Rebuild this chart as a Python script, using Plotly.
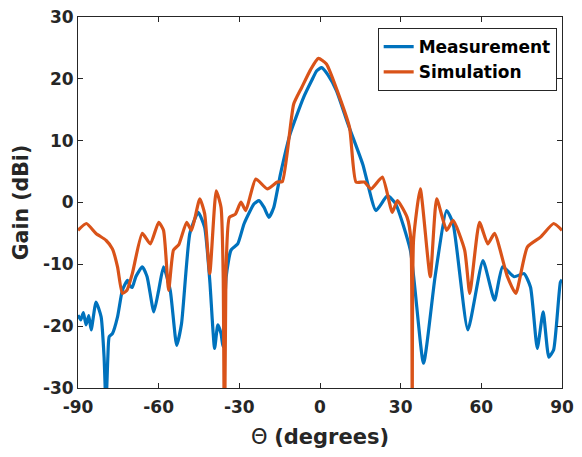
import plotly.graph_objects as go

meas_theta = [-90, -89, -88, -87, -86, -85.1, -83.3, -81.4, -80.3, -79.6, -78.9, -78.4, -77.2, -75.3, -73.5,
              -71.6, -70.5, -69.8, -68.5, -66.1, -64.3, -61.8, -60, -58.2, -55.7, -53.3, -51.5, -48.4, -45.3,
              -42.9, -41.0, -39.2, -38.0, -36.8, -36.1, -34.9, -33.1, -30.6, -28.2, -24.5, -22.7, -20.8, -19.0,
              -17.2, -14.7, -11.1, -6.1, -3.0, -1.2, 0.6, 3.0, 6.1, 10.4, 15.9, 20.8, 25.1, 28.1, 33.6, 38.5,
              42.8, 47.1, 49.5, 55.0, 60.6, 64.9, 67.9, 72.2, 75.9, 78.3, 80.8, 83.0, 85.1, 86.9, 89.4, 90]
meas_gain = [-18.2, -19.0, -17.8, -19.8, -18.3, -20.6, -16.1, -18.5, -25.0, -33.0, -25.0, -21.7, -21.2, -18.5, -14.2,
             -12.6, -13.6, -13.7, -12.0, -10.4, -12.0, -17.7, -14.2, -10.4, -14.2, -23.1, -19.6, -5.0, -1.6,
             -4.0, -12.6, -23.6, -19.8, -21.2, -23.3, -12.0, -7.7, -6.7, -3.4, -0.2, 0.3, -0.8, -2.4,
             -0.8, 4.6, 11.1, 17.0, 19.8, 21.3, 21.8, 20.6, 18.1, 12.7, 6.2, -1.3, 1.1, -0.2, -7.7, -26.0,
             -12.0, -1.3, -3.4, -20.6, -9.4, -15.8, -10.4, -12.0, -11.5, -13.7, -23.6, -17.7, -25.0, -23.8, -12.9, -12.5]

sim_theta = [-90, -86.9, -83.3, -79.6, -77.2, -75.3, -73.5, -71.8, -69.8, -66.1, -63.1, -60, -58.2, -56.3,
             -54.5, -52.5, -49.6, -47.8, -44.7, -42.9, -41.0, -38.6, -36.8, -36.0, -35.5, -35.0, -33.7, -31.5,
             -29.4, -27.6, -23.9, -19.6, -15.9, -14.0, -9.8, -6.8, -3.5, -0.6, 2.4, 7.3, 11.0, 13.4, 16.5,
             19.0, 23.2, 26.9, 28.8, 32.4, 33.8, 34.3, 34.8, 37.3, 41.0, 43.4, 47.1, 49.5, 53.8, 55.7, 59.3,
             62.4, 64.9, 69.7, 72.8, 77.1, 82.0, 86.9, 90]
sim_gain = [-4.5, -3.4, -5.0, -6.1, -7.5, -10.4, -14.7, -14.2, -11.5, -5.0, -6.7, -3.2, -4.5, -14.2,
            -7.7, -6.8, -3.2, -4.5, 0.6, -1.8, -11.5, 1.9, -0.8, -12.0, -45.0, -12.0, -2.4, -1.9,
            0.05, -1.3, 3.8, 2.2, 3.3, 3.4, 15.9, 18.6, 21.5, 23.3, 22.4, 17.0, 12.1, 3.3, 3.3,
            2.2, 4.1, -1.6, 0.3, -2.4, -6.0, -45.0, -6.0, 2.2, -12.0, 0.6, -4.5, -2.9, -7.7, -14.7, -3.2,
            -6.7, -5.0, -12.0, -14.7, -7.2, -5.6, -3.4, -4.5]

x_ticks = [-90, -60, -30, 0, 30, 60, 90]
y_ticks = [-30, -20, -10, 0, 10, 20, 30]

FONT = "DejaVu Sans"
INK = "#262626"

fig = go.Figure()
fig.add_trace(go.Scatter(x=meas_theta, y=meas_gain, mode="lines", name="<b>Measurement</b>",
                         line=dict(color="#0072BD", width=3.2, shape="spline", smoothing=0.5)))
fig.add_trace(go.Scatter(x=sim_theta, y=sim_gain, mode="lines", name="<b>Simulation</b>",
                         line=dict(color="#D95319", width=3.2, shape="spline", smoothing=0.5)))

axis_common = dict(showgrid=False, zeroline=False, showline=True, linecolor=INK, linewidth=1,
                   mirror="ticks", ticks="inside", ticklen=5, tickcolor=INK, automargin=False,
                   ticklabeloverflow="allow",
                   tickfont=dict(family=FONT, size=17, color=INK))

fig.update_xaxes(range=[-90, 90], tickvals=x_ticks, ticktext=[f"<b>{v}</b>" for v in x_ticks],
                 ticklabelstandoff=4,
                 title=dict(text="Θ <b>(degrees)</b>", font=dict(family=FONT, size=21, color=INK),
                            standoff=21),
                 **axis_common)
fig.update_yaxes(range=[-30, 30], tickvals=y_ticks, ticktext=[f"<b>{v}</b>" for v in y_ticks],
                 title=dict(text="<b>Gain (dBi)</b>", font=dict(family=FONT, size=20.5, color=INK),
                            standoff=8),
                 **axis_common)

fig.update_layout(
    width=566, height=441,
    margin=dict(l=70, r=12, t=9, b=61, autoexpand=False),
    plot_bgcolor="white", paper_bgcolor="white",
    legend=dict(x=0.989, y=0.970, xanchor="right", yanchor="top",
                bordercolor=INK, borderwidth=1, bgcolor="white",
                font=dict(family=FONT, size=17, color="black"),
                tracegroupgap=0, itemwidth=30),
    showlegend=True,
)

fig.write_html("out.html")
